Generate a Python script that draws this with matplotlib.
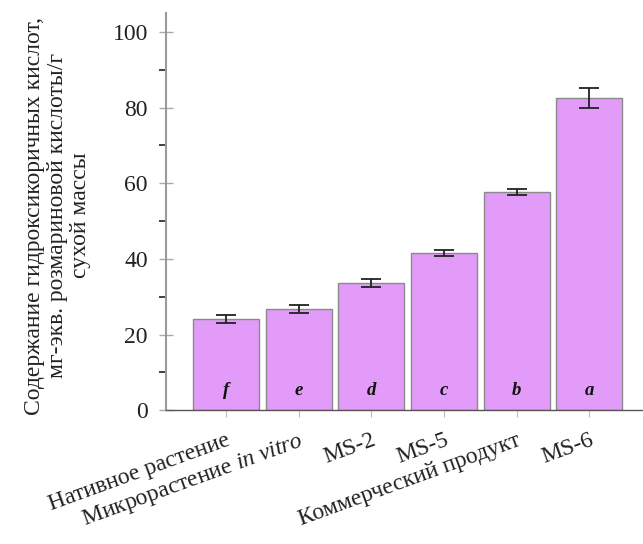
import matplotlib
matplotlib.use("Agg")
import matplotlib.pyplot as plt
import matplotlib.transforms as mtransforms
import numpy as np

plt.rcParams['font.family'] = ['Liberation Serif', 'DejaVu Serif']
plt.rcParams['mathtext.fontset'] = 'custom'
plt.rcParams['mathtext.rm'] = 'Liberation Serif'
plt.rcParams['mathtext.it'] = 'Liberation Serif:italic'

categories = ["Нативное растение", "Микрорастение $\\mathit{in\\ vitro}$", "MS-2", "MS-5",
              "Коммерческий продукт", "MS-6"]
values = [24.1, 26.8, 33.7, 41.5, 57.7, 82.6]
errors = [1.0, 1.0, 1.0, 0.8, 0.8, 2.6]
letters = ["f", "e", "d", "c", "b", "a"]
yticks = [0, 20, 40, 60, 80, 100]

fig = plt.figure(figsize=(6.43, 5.44), dpi=100)
ax = fig.add_axes([0.258, 0.246, 0.742, 0.73])

x = np.arange(len(categories))
ax.bar(x, values, width=0.91, color='#E29BF9', edgecolor='#8a8a8a', linewidth=1.0, zorder=2)
ax.errorbar(x, values, yerr=errors, fmt='none', ecolor='#222222', elinewidth=1.3,
            capsize=7, capthick=1.3, zorder=3)
for xi, lt in zip(x, letters):
    ax.text(xi, 5.2, lt, ha='center', va='center', fontsize=13.5,
            fontstyle='italic', fontweight='bold', color='#111111', zorder=4)

ax.set_xlim(-0.826, 5.74)
ax.set_ylim(0, 105)
ax.set_yticks(yticks)
ax.set_yticks([10, 30, 50, 70, 90], minor=True)
ax.set_xticks(x)
ax.set_xticklabels(categories, rotation=20, ha='right', va='top',
                   rotation_mode='anchor', fontsize=17)
shift = mtransforms.ScaledTranslation(8 / 100, 0, fig.dpi_scale_trans)
for lbl in ax.get_xticklabels():
    lbl.set_transform(lbl.get_transform() + shift)

for s in ['top', 'right']:
    ax.spines[s].set_visible(False)
ax.spines['left'].set_color('#9a9a9a')
ax.spines['left'].set_linewidth(1.5)
ax.spines['bottom'].set_color('#555555')
ax.spines['bottom'].set_linewidth(1.0)

ax.tick_params(axis='y', which='major', direction='inout', length=10, width=1.0,
               color='#aaaaaa', labelsize=17, labelcolor='#222222', pad=8)
ax.tick_params(axis='y', which='minor', direction='out', length=5, width=1.3,
               color='#333333')
ax.tick_params(axis='x', which='major', direction='out', length=5, width=0.8,
               color='#bbbbbb', pad=9, labelcolor='#222222')

ax.set_ylabel("Содержание гидроксикоричных кислот,\nмг-экв. розмариновой кислоты/г\nсухой массы",
              fontsize=17, color='#222222', linespacing=1.12)
ax.yaxis.set_label_coords(-0.158, 0.49)

fig.savefig("out.png", dpi=100)
